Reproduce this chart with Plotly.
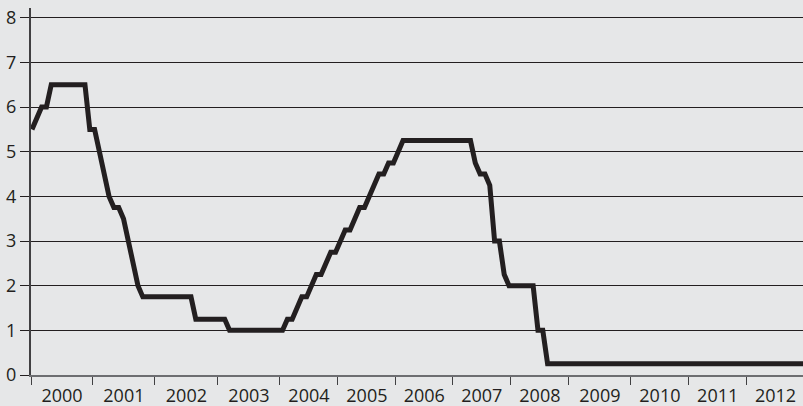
import plotly.graph_objects as go
import pandas as pd

# Federal funds target rate, end of month (%)
rate_2000 = [5.5, 5.75, 6.0, 6.0, 6.5, 6.5, 6.5, 6.5, 6.5, 6.5, 6.5, 6.5]
rate_2001 = [5.5, 5.5, 5.0, 4.5, 4.0, 3.75, 3.75, 3.5, 3.0, 2.5, 2.0, 1.75]
rate_2002 = [1.75] * 10 + [1.25, 1.25]
rate_2003 = [1.25] * 5 + [1.0] * 7
rate_2004 = [1.0] * 5 + [1.25, 1.25, 1.5, 1.75, 1.75, 2.0, 2.25]
rate_2005 = [2.25, 2.5, 2.75, 2.75, 3.0, 3.25, 3.25, 3.5, 3.75, 3.75, 4.0, 4.25]
rate_2006 = [4.5, 4.5, 4.75, 4.75, 5.0, 5.25, 5.25, 5.25, 5.25, 5.25, 5.25, 5.25]
rate_2007 = [5.25] * 8 + [4.75, 4.5, 4.5, 4.25]
rate_2008 = [3.0, 3.0, 2.25, 2.0, 2.0, 2.0, 2.0, 2.0, 2.0, 1.0, 1.0, 0.25]
rate_2009 = [0.25] * 12
rate_2010 = [0.25] * 12
rate_2011 = [0.25] * 12
rate_2012 = [0.25] * 12
rate_2013 = [0.25] * 5

rates = (rate_2000 + rate_2001 + rate_2002 + rate_2003 + rate_2004 + rate_2005
         + rate_2006 + rate_2007 + rate_2008 + rate_2009 + rate_2010 + rate_2011
         + rate_2012 + rate_2013)
months = pd.date_range("2000-01-31", periods=len(rates), freq="ME")
month_index = list(range(len(months)))

year_labels = [str(y) for y in range(2000, 2013)]
# year boundaries on the category axis (month index units), as drawn in the source
year_bounds = [-0.2, 12.65, 25.5, 38.6, 51.45, 63.5, 75.5, 87.3, 99.4,
               111.4, 124.3, 136.3, 148.3, 160.3]
label_pos = [(a + b) / 2 for a, b in zip(year_bounds[:-1], year_bounds[1:])]

x_range = [-0.2, 160.0]
ink = "#231f20"
bg = "#e6e7e8"
font = dict(family="Open Sans", size=18, color=ink)

fig = go.Figure()
fig.add_trace(go.Scatter(
    x=month_index, y=rates, mode="lines",
    line=dict(color=ink, width=5),
    hovertext=[m.strftime("%b %Y") for m in months],
    showlegend=False,
))
# invisible trace to activate the label axis
fig.add_trace(go.Scatter(x=[x_range[0]], y=[0], xaxis="x2", mode="markers",
                         marker=dict(opacity=0), showlegend=False, hoverinfo="skip"))

fig.update_layout(
    width=803, height=406, autosize=False,
    margin=dict(l=31, r=0, t=8, b=31),
    paper_bgcolor=bg, plot_bgcolor=bg,
    font=font,
    xaxis=dict(
        range=x_range, tickvals=year_bounds[:-1], ticktext=[""] * 13,
        ticks="outside", ticklen=8, tickcolor="#414042", tickwidth=1.2,
        showgrid=False, zeroline=False, automargin=False,
        showline=True, linecolor="#6d6e71", linewidth=2,
    ),
    xaxis2=dict(
        range=x_range, overlaying="x", side="bottom", anchor="y",
        tickvals=label_pos, ticktext=year_labels, ticks="",
        showgrid=False, zeroline=False, showline=False, automargin=False,
        tickfont=font, ticklabelstandoff=8,
    ),
    yaxis=dict(
        range=[0, 8.22], tickvals=list(range(0, 9)),
        ticks="outside", ticklen=9, tickcolor=ink, tickwidth=1.2,
        showgrid=True, gridcolor=ink, gridwidth=1, automargin=False,
        zeroline=False, showline=True, linecolor="#414042", linewidth=2,
        tickfont=font,
    ),
)

fig.write_html(
    "out.html",
    config={"displayModeBar": False},
    post_script="document.body.style.margin='0';document.body.style.background='#e6e7e8';",
)
